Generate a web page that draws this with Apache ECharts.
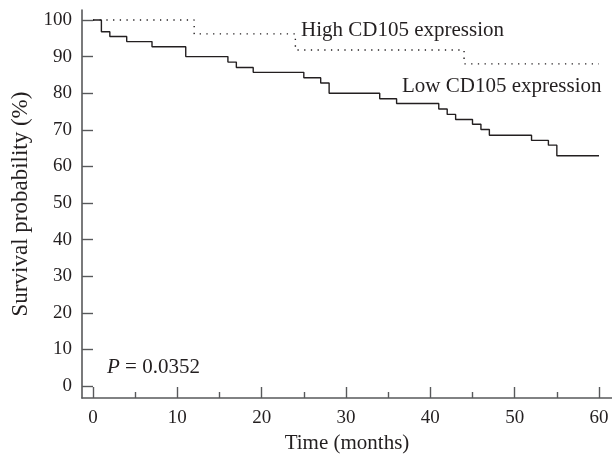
<!DOCTYPE html>
<html lang="en">
<head>
    <meta charset="UTF-8">
    <title>Survival</title>
</head>
<body style="margin:0">
<div id="main" style="width:612px;height:458px;"></div>
<script src="https://cdn.jsdelivr.net/npm/echarts@6/dist/echarts.min.js"></script>
<script>
    // Kaplan-Meier steps (months, survival %)
    var lowTimes = [0, 1, 2, 4, 7, 11, 16, 17, 19, 25, 27, 28, 34, 36, 41, 42, 43, 45, 46, 47, 52, 54, 55, 60];
    var lowSurv = [100, 96.8, 95.5, 94.1, 92.7, 90.0, 88.5, 87.0, 85.7, 84.2, 82.8, 80.0, 78.5, 77.2, 75.7, 74.2, 72.8, 71.5, 70.1, 68.5, 67.1, 65.8, 62.9, 62.9];
    var highTimes = [0, 12, 24, 44, 60];
    var highSurv = [100, 96.2, 91.8, 88.0, 88.0];
    var xTicks = [0, 10, 20, 30, 40, 50, 60];
    var xMinorTicks = [5, 15, 25, 35, 45, 55];
    var yTicks = [0, 10, 20, 30, 40, 50, 60, 70, 80, 90, 100];

    function pairs(xs, ys) {
        var out = [];
        for (var i = 0; i < xs.length; i++) out.push([xs[i], ys[i]]);
        return out;
    }

    var font = 'Liberation Serif';
    var ink = '#231f20';
    var axisCol = '#58595b';

    // axes run a little past 0 and 60 / 0 and 100, as in the figure
    var xMin = -1.3, xMax = 61.54;
    var yMin = -3.28, yMax = 102.73;

    var myChart = echarts.init(document.getElementById('main'));
    var option = {
        animation: false,
        textStyle: {fontFamily: font},
        grid: {left: 82, right: 0, top: 10, bottom: 60, outerBoundsMode: 'none'},
        xAxis: [{
            type: 'value', min: xMin, max: xMax, position: 'bottom',
            name: 'Time (months)', nameLocation: 'middle', nameGap: 27,
            nameTextStyle: {fontFamily: font, fontSize: 21, color: ink},
            axisLine: {onZero: false, lineStyle: {color: axisCol, width: 1.6}},
            axisTick: {show: true, inside: true, length: 11, customValues: xTicks,
                lineStyle: {color: axisCol, width: 1.4}},
            axisLabel: {fontFamily: font, fontSize: 19, color: ink, margin: 11, customValues: xTicks},
            splitLine: {show: false}
        }, {
            type: 'value', min: xMin, max: xMax, position: 'bottom',
            axisLine: {show: false, onZero: false},
            axisTick: {show: true, inside: true, length: 6, customValues: xMinorTicks,
                lineStyle: {color: axisCol, width: 1.4}},
            axisLabel: {show: false},
            splitLine: {show: false}
        }],
        yAxis: {
            type: 'value', min: yMin, max: yMax,
            name: 'Survival probability (%)', nameLocation: 'middle', nameGap: 50,
            nameTextStyle: {fontFamily: font, fontSize: 23, color: ink},
            axisLine: {onZero: false, lineStyle: {color: axisCol, width: 1.6}},
            axisTick: {show: true, inside: true, length: 11, customValues: yTicks,
                lineStyle: {color: axisCol, width: 1.4}},
            axisLabel: {fontFamily: font, fontSize: 19, color: ink, margin: 10, customValues: yTicks},
            splitLine: {show: false}
        },
        series: [{
            name: 'Low CD105 expression',
            type: 'line', xAxisIndex: 0,
            step: 'end', showSymbol: false,
            data: pairs(lowTimes, lowSurv),
            lineStyle: {color: ink, width: 1.4}
        }, {
            name: 'High CD105 expression',
            type: 'line', xAxisIndex: 0,
            step: 'end', showSymbol: false,
            data: pairs(highTimes, highSurv),
            lineStyle: {color: ink, width: 1.4, type: [1.3, 5.4]}
        }],
        graphic: [{
            type: 'text', left: 301, top: 20,
            style: {text: 'High CD105 expression', font: '21px "Liberation Serif"', fill: ink}
        }, {
            type: 'text', left: 402, top: 76,
            style: {text: 'Low CD105 expression', font: '21px "Liberation Serif"', fill: ink}
        }, {
            type: 'text', left: 107, top: 357,
            style: {
                text: '{i|P} = 0.0352', font: '21px "Liberation Serif"', fill: ink,
                rich: {i: {fontStyle: 'italic', fontFamily: font, fontSize: 21, fill: ink}}
            }
        }]
    };
    myChart.setOption(option);
</script>
</body>
</html>
